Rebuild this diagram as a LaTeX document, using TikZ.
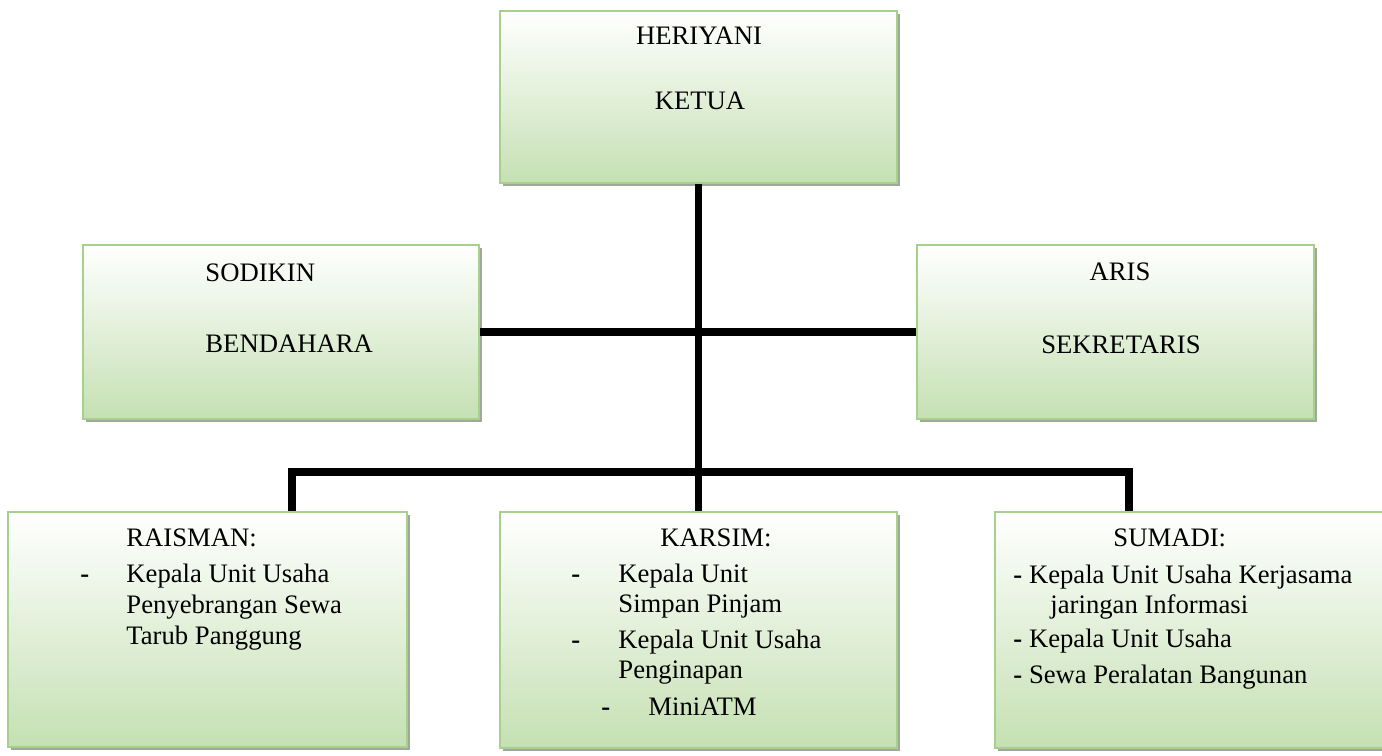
\documentclass[tikz,border=0pt]{standalone}
\usepackage{fontspec}
\setmainfont{Liberation Serif}
\usepackage{xcolor}
\usetikzlibrary{shadows}

\definecolor{cardgreen}{HTML}{C5E0B3}
\definecolor{cardedge}{HTML}{A8D08D}
\definecolor{cardshade}{HTML}{9FA89A}

\begin{document}
\begin{tikzpicture}[
    x=0.45pt, y=-0.45pt,
    card/.style={rectangle, draw=cardedge, line width=0.8pt, top color=white, bottom color=cardgreen,
        drop shadow={shadow xshift=1.3pt, shadow yshift=-1.3pt, fill=cardshade, opacity=1}},
    txt/.style={font=\fontsize{12}{14.4}\selectfont, inner sep=0pt, anchor=base west},
    ctxt/.style={txt, anchor=base},
    link/.style={line width=3.2pt, black}
]
    \useasboundingbox (0,0) rectangle (1382,755);

    % boxes
    \node[card, minimum width=178.65pt, minimum height=77.4pt] (ketua) at (698.5,97) {};
    \node[card, minimum width=178.2pt, minimum height=78.3pt] (bendahara) at (281,332) {};
    \node[card, minimum width=178.65pt, minimum height=78.3pt] (sekretaris) at (1115.5,332) {};
    \node[card, minimum width=179.55pt, minimum height=105.75pt] (raisman) at (207.5,629.5) {};
    \node[card, minimum width=178.65pt, minimum height=106.2pt] (karsim) at (698.5,630) {};
    \node[card, minimum width=179.55pt, minimum height=106.2pt] (sumadi) at (1194.5,630) {};

    % connectors
    \coordinate (busL) at (292,472);
    \coordinate (busR) at (1129,472);
    \draw[link] (ketua.south) -- (karsim.north);
    \draw[link] (bendahara.east) -- (sekretaris.west);
    \draw[link] (busL |- raisman.north) -- (busL) -- (busR) -- (busR |- sumadi.north);

    % ketua
    \node[ctxt] (heriyani) at (699,44) {HERIYANI};
    \node[ctxt] (ketuaT) at (700,109) {KETUA};

    % bendahara
    \node[txt] (sodikin) at (205,281) {SODIKIN};
    \node[txt] (bendaharaT) at (205,352) {BENDAHARA};

    % sekretaris
    \node[ctxt] (aris) at (1120,280) {ARIS};
    \node[ctxt] (sekretarisT) at (1121,353) {SEKRETARIS};

    % raisman
    \node[txt] (raismanT) at (126,546) {RAISMAN:};
    \node[txt] (rdash) at (80,582) {\textbf{-}};
    \node[txt] (r1) at (126,582) {Kepala Unit Usaha};
    \node[txt] (r2) at (126,613) {Penyebrangan Sewa};
    \node[txt] (r3) at (126,644) {Tarub Panggung};

    % karsim
    \node[txt] (karsimT) at (660,546) {KARSIM:};
    \node[txt] (kdash1) at (571,582) {\textbf{-}};
    \node[txt] (k1) at (618,582) {Kepala Unit};
    \node[txt] (k2) at (618,612) {Simpan Pinjam};
    \node[txt] (kdash2) at (571,648) {\textbf{-}};
    \node[txt] (k3) at (618,648) {Kepala Unit Usaha};
    \node[txt] (k4) at (618,678) {Penginapan};
    \node[txt] (kdash3) at (601,715) {\textbf{-}};
    \node[txt] (k5) at (648,715) {MiniATM};

    % sumadi
    \node[txt] (sumadiT) at (1113,546) {SUMADI:};
    \node[txt] (s1) at (1013,583) {\textbf{-} Kepala Unit Usaha Kerjasama};
    \node[txt] (s2) at (1050,613) {jaringan Informasi};
    \node[txt] (s3) at (1013,647) {\textbf{-} Kepala Unit Usaha};
    \node[txt] (s4) at (1013,683) {\textbf{-} Sewa Peralatan Bangunan};
\end{tikzpicture}
\end{document}
